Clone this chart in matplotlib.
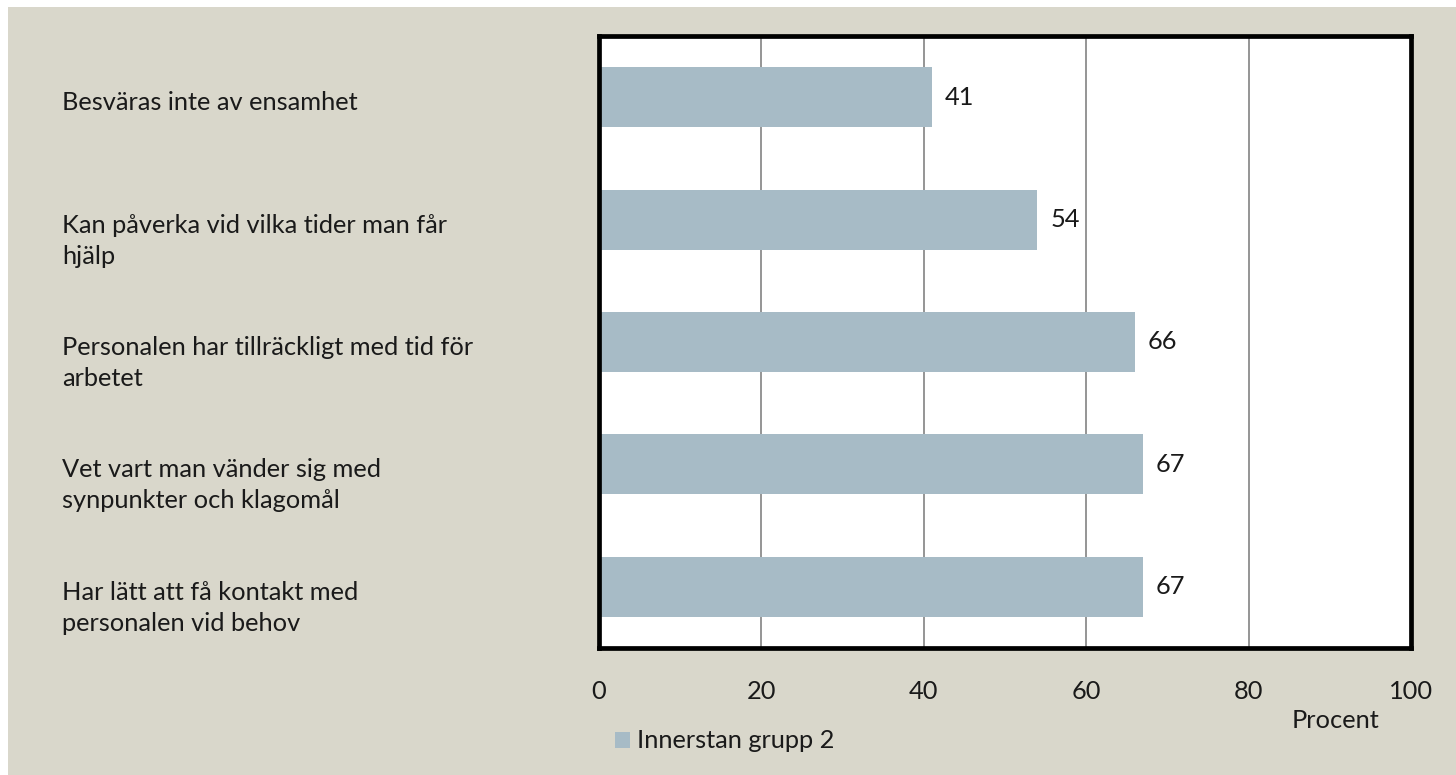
import matplotlib
matplotlib.use("Agg")
import matplotlib.pyplot as plt
from matplotlib.patches import Rectangle
import matplotlib.transforms as mtrans

categories = [
    "Besväras inte av ensamhet",
    "Kan påverka vid vilka tider man får\nhjälp",
    "Personalen har tillräckligt med tid för\narbetet",
    "Vet vart man vänder sig med\nsynpunkter och klagomål",
    "Har lätt att få kontakt med\npersonalen vid behov",
]
values = [41, 54, 66, 67, 67]
series_name = "Innerstan grupp 2"
xticks = [0, 20, 40, 60, 80, 100]
xlabel = "Procent"

BG = "#d9d7cb"
BAR = "#a7bbc6"
FONT = ["Lato", "DejaVu Sans"]
FS = 18.3
WT = "normal"
TC = "#1a1a1a"

W, H = 1456, 775
fig = plt.figure(figsize=(W / 100, H / 100), dpi=100)
fig.patch.set_facecolor("white")
fig.patches.append(Rectangle((8 / W, 0), 1 - 8 / W, 1 - 7 / H, transform=fig.transFigure,
                             facecolor=BG, edgecolor="none", zorder=-10))

ax = fig.add_axes([599 / W, 1 - 648 / H, (1411 - 599) / W, (648 - 36) / H])
ax.set_facecolor("white")
ypos = list(range(len(categories)))
ax.barh(ypos, values, height=0.49, color=BAR, zorder=2)
ax.set_xlim(0, 100)
ax.set_ylim(len(categories) - 0.5, -0.5)
ax.set_xticks(xticks)
ax.set_xticklabels([str(t) for t in xticks], fontsize=FS, family=FONT, weight=WT, color=TC)
ax.tick_params(axis="x", length=0, pad=23)
ax.set_yticks([])
ax.xaxis.grid(True, color="#8c8c8c", linewidth=1.3, zorder=1)
ax.set_axisbelow(True)
for s in ax.spines.values():
    s.set_linewidth(3.4)
    s.set_color("black")

for y, v in zip(ypos, values):
    ax.annotate(str(v), (v, y), xytext=(13, 0), textcoords="offset pixels",
                ha="left", va="center", fontsize=FS, family=FONT, weight=WT, color=TC)

lbl_tr = mtrans.blended_transform_factory(fig.transFigure, ax.transData)
for y, c in zip(ypos, categories):
    off = mtrans.ScaledTranslation(0, 6 / 100, fig.dpi_scale_trans)
    fig.text(62 / W, y, c, transform=lbl_tr + off, ha="left", va="top",
             fontsize=FS, family=FONT, weight=WT, color=TC, linespacing=1.42)

fig.text(1335 / W, 1 - 721 / H, xlabel, ha="center", va="center", fontsize=FS, family=FONT,
         weight=WT, color=TC)

fig.patches.append(Rectangle((615 / W, 1 - 748 / H), 15 / W, 16 / H, transform=fig.transFigure,
                             facecolor=BAR, edgecolor="none"))
fig.text(637 / W, 1 - 741 / H, series_name, ha="left", va="center", fontsize=FS, family=FONT,
         weight=WT, color=TC)

fig.savefig("out.png", dpi=100)
